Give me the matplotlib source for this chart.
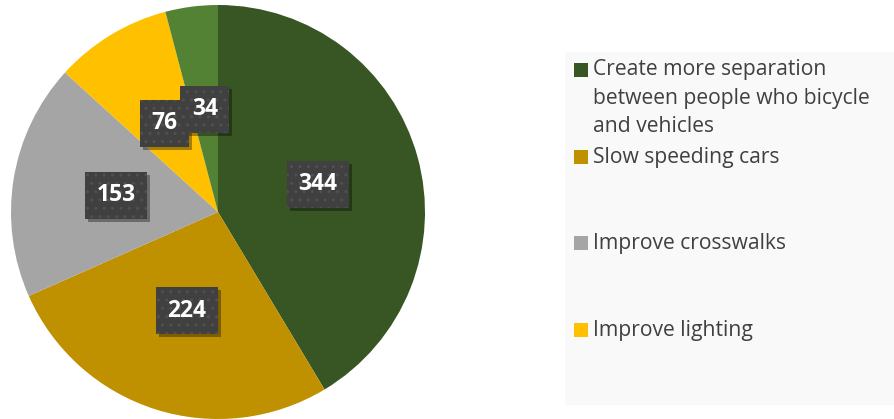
import matplotlib.pyplot as plt
from matplotlib.patches import Rectangle
from matplotlib.transforms import IdentityTransform

# data (clockwise from 12 o'clock)
values = [344, 224, 153, 76, 34]
colors = ['#375623', '#bf9000', '#a5a5a5', '#ffc000', '#548235']
legend_labels = [
    'Create more separation\nbetween people who bicycle\nand vehicles',
    'Slow speeding cars',
    'Improve crosswalks',
    'Improve lighting',
]
legend_y = [70, 157, 243, 330]   # pixel rows of first line of each entry

W, H = 894, 419
fig = plt.figure(figsize=(W / 100, H / 100), dpi=100)
fig.patch.set_facecolor('white')

# pie
ax = fig.add_axes([11 / W, 0, 414 / W, 414 / H])
wedges, texts, autotexts = ax.pie(
    values, colors=colors, startangle=90, counterclock=False,
    autopct=lambda p: '%d' % round(p * sum(values) / 100.0),
    pctdistance=0.5, radius=1.0,
    wedgeprops=dict(linewidth=0),
    textprops=dict(color='white', fontsize=16.5, fontweight='bold',
                   family=['Open Sans', 'DejaVu Sans']))
ax.set_xlim(-1, 1)
ax.set_ylim(-1, 1)
ax.set_aspect('equal')

# data label boxes
for t in autotexts:
    t.set_bbox(dict(boxstyle='square,pad=0.5', fc='#404040', ec='#505050',
                    hatch='..', linewidth=0))
    t.set_zorder(4)

# soft drop shadow behind each label box (drawn in the pie axes, under the labels)
fig.canvas.draw()
for t in autotexts:
    bb = t.get_bbox_patch().get_window_extent()
    sh = Rectangle((bb.x0 + 3, bb.y0 - 3), bb.width, bb.height, transform=IdentityTransform(),
                   fc=(0, 0, 0, 0.35), ec='none', zorder=3, clip_on=False)
    ax.add_patch(sh)

# legend panel
fig.patches.append(Rectangle((565 / W, 1 - 405 / H), (W - 565) / W, (405 - 52) / H,
                             transform=fig.transFigure, fc='#f9f9f9', ec='none', zorder=0))

line_h = 28.5
for lab, col, yy in zip(legend_labels, colors, legend_y):
    fig.patches.append(Rectangle((574 / W, 1 - (yy + 7) / H), 14 / W, 14 / H,
                                 transform=fig.transFigure, fc=col, ec='none'))
    for i, line in enumerate(lab.split('\n')):
        fig.text(593 / W, 1 - (yy + i * line_h) / H, line, ha='left', va='center',
                 fontsize=15.2, color='#404040', family=['Open Sans', 'DejaVu Sans'])

fig.savefig('out.png', dpi=100)
